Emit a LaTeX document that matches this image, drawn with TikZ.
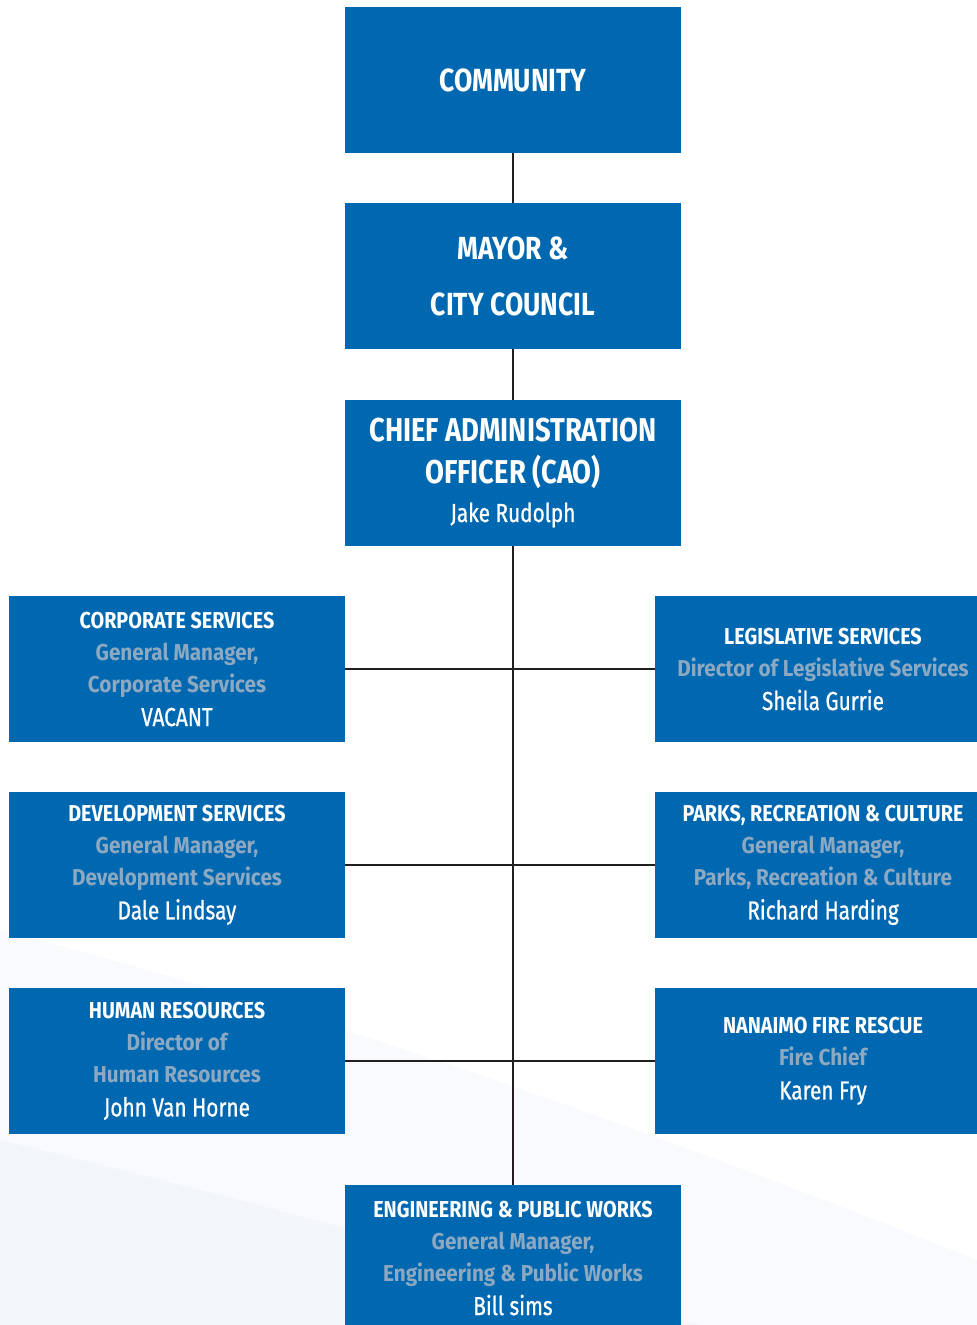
\documentclass[tikz,border=0pt]{standalone}
\usepackage{fontspec}
\setmainfont{Fira Sans}[FakeStretch=0.85]
\newfontfamily\bigfam{Fira Sans}[FakeStretch=0.83]
\newfontfamily\hdfam{Fira Sans}[FakeStretch=0.86]
\newfontfamily\grfam{Fira Sans}[FakeStretch=0.9]
\newfontfamily\nmfam{Fira Sans}[FakeStretch=0.8,FakeBold=0.8]
\definecolor{boxblue}{RGB}{0,103,177}
\definecolor{greytxt}{RGB}{140,169,193}
\definecolor{linec}{RGB}{35,31,32}
\definecolor{swooshA}{RGB}{248,250,253}
\definecolor{swooshB}{RGB}{242,246,251}
\newcommand\bigt{\bigfam\bfseries\fontsize{32}{56}\selectfont}
\newcommand\caot{\bigfam\bfseries\fontsize{33}{42}\selectfont}
\newcommand\hdt{\hdfam\bfseries\fontsize{23}{32}\selectfont\color{white}}
\newcommand\grt{\grfam\bfseries\fontsize{23}{32}\selectfont\color{greytxt}}
\newcommand\nmt{\nmfam\fontsize{26}{32}\selectfont\color{white}}
\tikzset{
  orgbox/.style={fill=boxblue, minimum width=336pt, minimum height=146pt,
    inner sep=0pt, align=center, text=white, font=\fontsize{23}{32}\selectfont},
  bigbox/.style={orgbox, font=\fontsize{32}{56}\selectfont},
  caobox/.style={orgbox, font=\fontsize{33}{42}\selectfont},
  link/.style={draw=linec, line width=2.5pt},
}
\begin{document}
\begin{tikzpicture}[x=1pt,y=-1pt]
\useasboundingbox (0,0) rectangle (977,1325);
\clip (0,0) rectangle (977,1325);
\fill[white] (0,0) rectangle (977,1325);
% faint background swooshes
\fill[swooshA] (0,930) .. controls (350,1020) and (700,1150) .. (977,1260) -- (977,1325) -- (0,1325) -- cycle;
\fill[swooshB] (0,1140) .. controls (250,1200) and (500,1270) .. (700,1325) -- (0,1325) -- cycle;
% boxes
\node[bigbox] (comm) at (513,80) {\bigt COMMUNITY};
\node[bigbox] (mayor) at (513,276) {\bigt MAYOR \&\\ \bigt CITY COUNCIL};
\node[caobox] (cao) at (513,473) {\caot CHIEF ADMINISTRATION\\ \caot OFFICER (CAO)\\[-4pt] \nmt Jake Rudolph};
\node[orgbox] (corp) at (177,669) {\hdt CORPORATE SERVICES\\ \grt General Manager,\\ \grt Corporate Services\\[2pt] \nmt VACANT};
\node[orgbox] (dev) at (177,865) {\hdt DEVELOPMENT SERVICES\\ \grt General Manager,\\ \grt Development Services\\[2pt] \nmt Dale Lindsay};
\node[orgbox] (hr) at (177,1061) {\hdt HUMAN RESOURCES\\ \grt Director of\\ \grt Human Resources\\[2pt] \nmt John Van Horne};
\node[orgbox] (legis) at (823,669) {\hdt LEGISLATIVE SERVICES\\ \grt Director of Legislative Services\\[2pt] \nmt Sheila Gurrie};
\node[orgbox] (parks) at (823,865) {\hdt PARKS, RECREATION \& CULTURE\\ \grt General Manager,\\ \grt Parks, Recreation \& Culture\\[2pt] \nmt Richard Harding};
\node[orgbox] (fire) at (823,1061) {\hdt NANAIMO FIRE RESCUE\\ \grt Fire Chief\\[2pt] \nmt Karen Fry};
\node[orgbox] (eng) at (513,1258) {\hdt ENGINEERING \& PUBLIC WORKS\\ \grt General Manager,\\ \grt Engineering \& Public Works\\[2pt] \nmt Bill sims};
% connectors
\draw[link] (comm.south) -- (mayor.north);
\draw[link] (mayor.south) -- (cao.north);
\draw[link] (cao.south) -- (eng.north);
\draw[link] (corp.east) -- (legis.west);
\draw[link] (dev.east) -- (parks.west);
\draw[link] (hr.east) -- (fire.west);
\end{tikzpicture}
\end{document}
